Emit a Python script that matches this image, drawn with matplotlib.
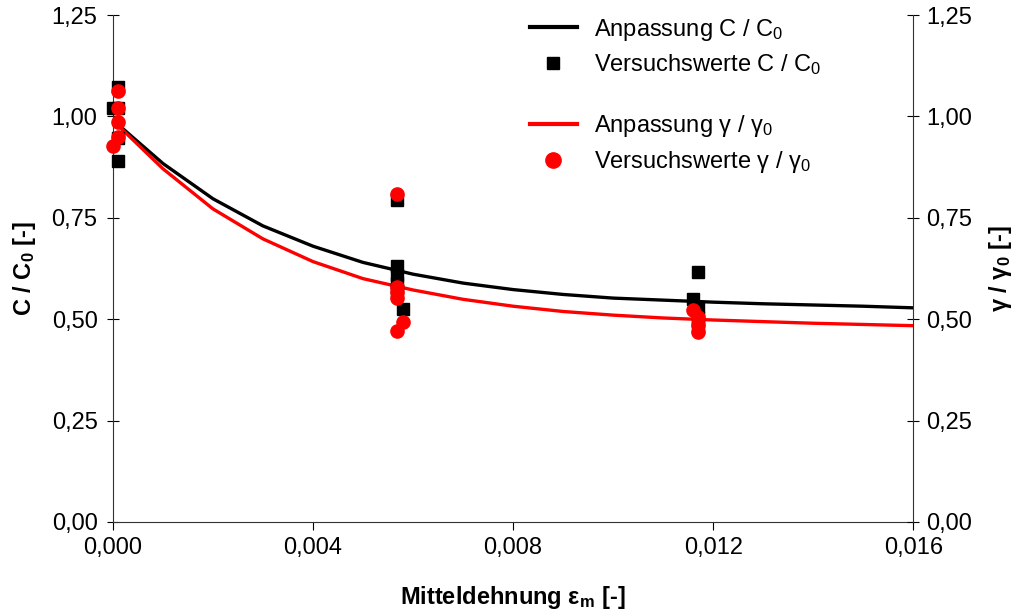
import matplotlib
matplotlib.use("Agg")
import matplotlib.pyplot as plt
from matplotlib.lines import Line2D
from matplotlib.ticker import FuncFormatter, MultipleLocator

plt.rcParams["font.family"] = ["Liberation Sans", "DejaVu Sans"]
plt.rcParams["mathtext.fontset"] = "custom"
plt.rcParams["mathtext.rm"] = "Liberation Sans"
plt.rcParams["mathtext.it"] = "Liberation Sans"
plt.rcParams["mathtext.bf"] = "Liberation Sans:bold"

# fitted curves (polyline through 0.001 steps)
x_fit = [0.000, 0.001, 0.002, 0.003, 0.004, 0.005, 0.006, 0.007, 0.008,
         0.009, 0.010, 0.011, 0.012, 0.013, 0.014, 0.015, 0.016]
c_fit = [0.991, 0.884, 0.797, 0.730, 0.680, 0.640, 0.611, 0.589, 0.573,
         0.561, 0.552, 0.547, 0.542, 0.538, 0.535, 0.532, 0.528]
g_fit = [0.990, 0.871, 0.772, 0.698, 0.642, 0.600, 0.572, 0.549, 0.532,
         0.519, 0.510, 0.503, 0.498, 0.494, 0.490, 0.487, 0.484]

# test values C / C0
c_x = [0.0, 0.0001, 0.0001, 0.0001, 0.0001,
       0.00568, 0.00568, 0.00568, 0.00568, 0.00568, 0.0058,
       0.0117, 0.0116, 0.0117, 0.0117, 0.0117]
c_y = [1.020, 1.073, 1.020, 0.947, 0.891,
       0.794, 0.632, 0.610, 0.590, 0.572, 0.524,
       0.617, 0.551, 0.530, 0.505, 0.480]

# test values gamma / gamma0
g_x = [0.0001, 0.0001, 0.0001, 0.0001, 0.0,
       0.00568, 0.00568, 0.00568, 0.00568, 0.0058, 0.00568,
       0.0116, 0.0117, 0.0117, 0.0117]
g_y = [1.063, 1.020, 0.985, 0.950, 0.928,
       0.809, 0.579, 0.568, 0.552, 0.494, 0.470,
       0.523, 0.506, 0.486, 0.469]

x_ticks = [0.000, 0.004, 0.008, 0.012, 0.016]

FS = 17


def comma(fmt):
    return FuncFormatter(lambda v, _: format(v, fmt).replace(".", ","))


fig = plt.figure(figsize=(10.17, 6.13), dpi=100)
ax = fig.add_axes([0.111, 0.1485, 0.787, 0.827])

ax.plot(x_fit, c_fit, color="black", lw=2.4, zorder=3)
ax.plot(x_fit, g_fit, color="#ff0000", lw=2.4, zorder=3)
ax.plot(c_x, c_y, ls="none", marker="s", ms=8.5, color="black",
        mec="black", zorder=4, clip_on=False)
ax.plot(g_x, g_y, ls="none", marker="o", ms=9.5, color="#ff0000",
        mec="#ff0000", zorder=5, clip_on=False)

ax.set_xlim(0, 0.016)
ax.set_ylim(0, 1.25)
ax.set_xticks(x_ticks)
ax.xaxis.set_major_formatter(comma(".3f"))
ax.yaxis.set_major_locator(MultipleLocator(0.25))
ax.yaxis.set_major_formatter(comma(".2f"))
ax.tick_params(axis="x", direction="out", length=6, width=0.8,
               labelsize=FS, pad=5)
ax.tick_params(axis="y", direction="inout", length=8, width=0.8,
               labelsize=FS, pad=7)
ax.spines["top"].set_visible(False)
ax.spines["right"].set_visible(False)
for s in ("left", "bottom"):
    ax.spines[s].set_linewidth(0.8)
    ax.spines[s].set_color("#333333")

ax2 = ax.twinx()
ax2.set_ylim(0, 1.25)
ax2.yaxis.set_major_locator(MultipleLocator(0.25))
ax2.yaxis.set_major_formatter(comma(".2f"))
ax2.tick_params(axis="y", direction="inout", length=8, width=0.8,
                labelsize=FS, pad=5)
ax2.spines["top"].set_visible(False)
ax2.spines["left"].set_visible(False)
ax2.spines["bottom"].set_visible(False)
ax2.spines["right"].set_linewidth(0.8)
ax2.spines["right"].set_color("#333333")

ax.set_xlabel(r"Mitteldehnung ε$_\mathbf{m}$ [-]", fontsize=FS,
              fontweight="bold", labelpad=18)
ax.set_ylabel(r"C / C$_\mathbf{0}$ [-]", fontsize=FS, fontweight="bold",
              labelpad=10)
ax2.set_ylabel(r"γ / γ$_\mathbf{0}$ [-]", fontsize=FS, fontweight="bold",
               labelpad=11)

h1 = [Line2D([], [], color="black", lw=3),
      Line2D([], [], ls="none", marker="s", ms=8.5, color="black")]
h2 = [Line2D([], [], color="#ff0000", lw=3),
      Line2D([], [], ls="none", marker="o", ms=11, color="#ff0000")]
leg_kw = dict(frameon=False, fontsize=FS, handlelength=2.0,
              handletextpad=0.7, labelspacing=0.4, borderaxespad=0,
              borderpad=0, loc="upper left")
leg1 = fig.legend(h1, ["Anpassung C / C$_0$", "Versuchswerte C / C$_0$"],
                  bbox_to_anchor=(0.521, 0.973), **leg_kw)
leg2 = fig.legend(h2, ["Anpassung γ / γ$_0$", "Versuchswerte γ / γ$_0$"],
                  bbox_to_anchor=(0.521, 0.815), **leg_kw)

fig.savefig("out.png", dpi=100)
